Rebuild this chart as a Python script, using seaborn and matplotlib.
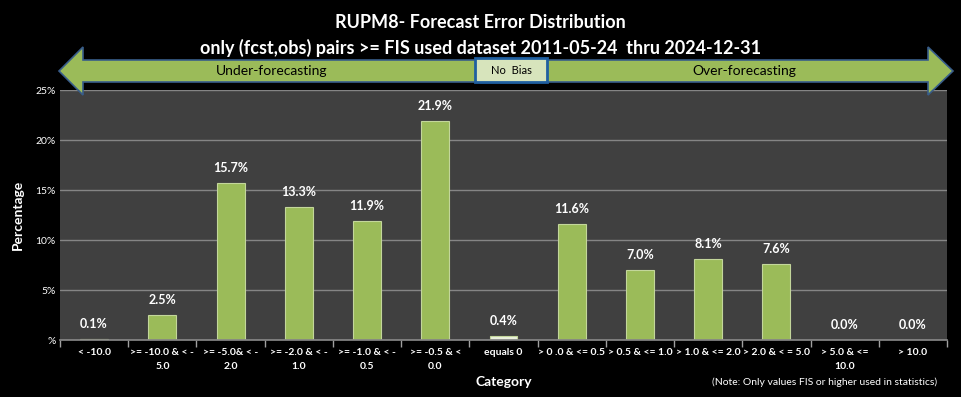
import matplotlib
matplotlib.use("Agg")
import matplotlib.pyplot as plt
from matplotlib.patches import Polygon, Rectangle
from matplotlib.ticker import FuncFormatter
import seaborn as sns
import pandas as pd

categories = ["< -10.0", ">= -10.0 & < -\n5.0", ">= -5.0& < -\n2.0", ">= -2.0 & < -\n1.0",
              ">= -1.0 & < -\n0.5", ">= -0.5 & <\n0.0", "equals 0", "> 0 .0 & <= 0.5",
              "> 0.5 & <= 1.0", "> 1.0 & <= 2.0", "> 2.0 & < = 5.0", "> 5.0 & <=\n10.0", "> 10.0"]
values = [0.1, 2.5, 15.7, 13.3, 11.9, 21.9, 0.4, 11.6, 7.0, 8.1, 7.6, 0.0, 0.0]
yticks = [0, 5, 10, 15, 20, 25]

GREEN = "#9BBB59"
ZERO_COL = "#EBF1DE"
colors = [ZERO_COL if c == "equals 0" else GREEN for c in categories]

df = pd.DataFrame({"cat": categories, "val": values})

sns.set_theme(style="dark")
plt.rcParams["font.family"] = ["Lato", "DejaVu Sans"]

W, H = 961, 397
fig = plt.figure(figsize=(W / 100, H / 100), dpi=100, facecolor="black")
ax = fig.add_axes([60 / W, 1 - 340 / H, (947 - 60) / W, (340 - 90) / H])
ax.set_facecolor("#404040")

sns.barplot(data=df, x="cat", y="val", hue="cat", palette=colors, legend=False,
            width=0.41, edgecolor="#C3D69B", linewidth=0.8, ax=ax, saturation=1)

ax.set_ylim(0, 25)
ax.set_yticks(yticks)
ax.yaxis.set_major_formatter(FuncFormatter(lambda v, p: "%" if v == 0 else f"{int(v)}%"))
ax.set_xlim(-0.5, len(categories) - 0.5)
ax.grid(axis="y", color="#858585", linewidth=1)
ax.grid(axis="x", visible=False)
ax.set_axisbelow(True)
for s in ["top", "right"]:
    ax.spines[s].set_visible(False)
ax.spines["left"].set_color("#858585")
ax.spines["bottom"].set_color("#858585")
ax.spines["left"].set_visible(False)

ax.set_xticks([i - 0.5 for i in range(len(categories) + 1)], minor=True)
ax.tick_params(axis="x", which="minor", length=5, color="#A0A0A0", bottom=True)
ax.tick_params(axis="x", which="major", length=0, pad=6, labelsize=7.5, labelcolor="white")
ax.tick_params(axis="y", length=0, labelsize=7.5, labelcolor="white", pad=3)
for lbl in ax.get_xticklabels():
    lbl.set_fontweight("bold")
    lbl.set_linespacing(1.6)

ax.set_xlabel("Category", color="white", fontsize=10, fontweight="bold", labelpad=4)
ax.set_ylabel("Percentage", color="white", fontsize=10, fontweight="bold", labelpad=8)

for i, v in enumerate(values):
    ax.annotate(f"{v:.1f}%", (i, v), xytext=(0, 10.5), textcoords="offset points",
                ha="center", va="center", color="white", fontsize=9, fontweight="bold")

# titles
fig.text(0.5, 1 - 22 / H, "RUPM8- Forecast Error Distribution", ha="center", va="center",
         color="white", fontsize=13, fontweight="bold")
fig.text(0.5, 1 - 48 / H, "only (fcst,obs) pairs >= FIS used dataset 2011-05-24  thru 2024-12-31",
         ha="center", va="center", color="white", fontsize=13, fontweight="bold")

# double arrow
def px(x, y):
    return (x / W, 1 - y / H)

pts = [px(59, 71), px(83, 47), px(83, 60), px(928, 60), px(928, 47), px(953, 71),
       px(928, 95), px(928, 82), px(83, 82), px(83, 95)]
fig.add_artist(Polygon(pts, closed=True, transform=fig.transFigure, facecolor=GREEN,
                       edgecolor="#385D8A", linewidth=1.2, zorder=5))
x0, y0 = px(475, 82)
x1, y1 = px(547, 58)
fig.add_artist(Rectangle((x0, y0), x1 - x0, y1 - y0, transform=fig.transFigure,
                         facecolor="#D7E4BC", edgecolor="#1F5FA0", linewidth=2, zorder=6))
fig.text(511 / W, 1 - 70 / H, "No  Bias", ha="center", va="center", fontsize=8, color="black", zorder=7)
fig.text(272 / W, 1 - 71 / H, "Under-forecasting", ha="center", va="center", fontsize=10, color="black", zorder=7)
fig.text(744 / W, 1 - 71 / H, "Over-forecasting", ha="center", va="center", fontsize=10, color="black", zorder=7)

fig.text(937 / W, 1 - 382 / H, "(Note: Only values FIS or higher used in statistics)", ha="right",
         va="center", fontsize=7.5, color="white")

fig.savefig("out.png", dpi=100, facecolor="black")
